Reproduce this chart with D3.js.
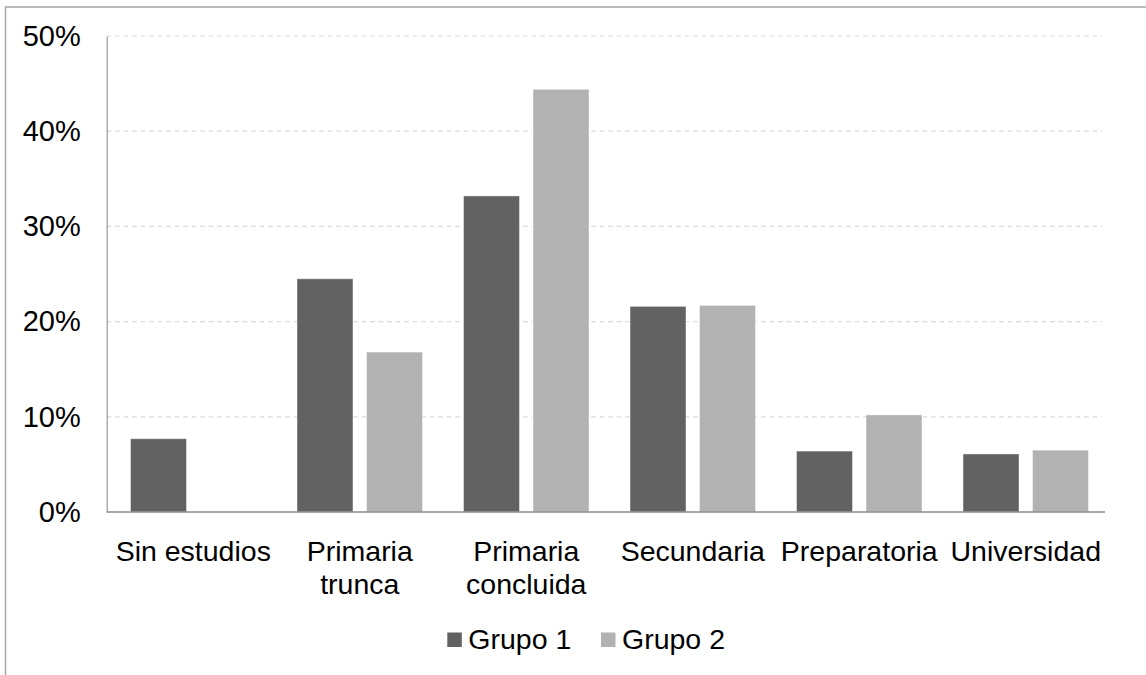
<!DOCTYPE html>
<html>
<head>
<meta charset="utf-8">
<script src="https://cdn.jsdelivr.net/npm/d3@7"></script>
<style>
  html, body { margin: 0; padding: 0; background: #fff; }
  svg { display: block; font-family: "Liberation Sans", Arial, sans-serif; }
</style>
</head>
<body>
<svg id="chart" width="1146" height="675"></svg>
<script>
// Education level categories and the share of each group
const categories = [
  ["Sin estudios"],
  ["Primaria", "trunca"],
  ["Primaria", "concluida"],
  ["Secundaria"],
  ["Preparatoria"],
  ["Universidad"]
];
const seriesNames = ["Grupo 1", "Grupo 2"];
const grupo1 = [7.7, 24.5, 33.2, 21.6, 6.4, 6.1];
const grupo2 = [0, 16.8, 44.4, 21.7, 10.2, 6.5];
const yTicks = [0, 10, 20, 30, 40, 50];
const seriesColors = ["#626262", "#b2b2b2"];

const svg = d3.select("#chart");

// Outer chart frame
svg.append("rect")
  .attr("x", 5.5).attr("y", 7)
  .attr("width", 1200).attr("height", 800)
  .attr("fill", "none")
  .attr("stroke", "#a6a6a6")
  .attr("stroke-width", 1.5);

const plot = { left: 106.7, right: 1105, top: 36, bottom: 512 };

const y = d3.scaleLinear().domain([0, 50]).range([plot.bottom, plot.top]);

const catKeys = categories.map(c => c.join(" "));
const x = d3.scaleBand().domain(catKeys).range([110, 1109]).paddingInner(0).paddingOuter(0);

// Two bars per category: 56px wide with a 13.5px gap
const groupWidth = 125.5;
const xs = d3.scaleBand().domain(seriesNames).range([0, groupWidth])
  .paddingInner(13.5 / 69.5).paddingOuter(0);

// Horizontal dashed gridlines
svg.append("g")
  .selectAll("line")
  .data(yTicks.filter(t => t > 0))
  .join("line")
  .attr("x1", plot.left).attr("x2", plot.right - 3)
  .attr("y1", d => y(d)).attr("y2", d => y(d))
  .attr("stroke", "#d9d9d9")
  .attr("stroke-width", 1.2)
  .attr("stroke-dasharray", "4.5,4");

// Y axis
const yAxis = d3.axisLeft(y)
  .tickValues(yTicks)
  .tickFormat(d => d + "%")
  .tickSize(0)
  .tickPadding(26);

const yg = svg.append("g")
  .attr("transform", `translate(${plot.left},0)`)
  .call(yAxis);
yg.select(".domain").attr("stroke", "#a0a0a0").attr("stroke-width", 1.3);
yg.selectAll("text")
  .attr("font-size", 29)
  .attr("fill", "#000")
  .attr("font-family", "'Liberation Sans', Arial, sans-serif");

// Bars
const data = categories.map((c, i) => ({
  key: catKeys[i],
  values: [grupo1[i], grupo2[i]]
}));

const groups = svg.append("g")
  .selectAll("g")
  .data(data)
  .join("g")
  .attr("transform", d => `translate(${x(d.key) + (x.bandwidth() - groupWidth) / 2},0)`);

groups.selectAll("rect")
  .data(d => d.values.map((v, j) => ({ name: seriesNames[j], value: v, j })))
  .join("rect")
  .filter(d => d.value > 0)
  .attr("x", d => xs(d.name))
  .attr("width", xs.bandwidth())
  .attr("y", d => y(d.value))
  .attr("height", d => plot.bottom - y(d.value))
  .attr("fill", d => seriesColors[d.j])
  .attr("stroke", "#ffffff")
  .attr("stroke-opacity", 0.45)
  .attr("stroke-width", 1);

// Baseline (0%)
svg.append("line")
  .attr("x1", plot.left).attr("x2", plot.right)
  .attr("y1", y(0)).attr("y2", y(0))
  .attr("stroke", "#8c8c8c")
  .attr("stroke-width", 1.3);

// Category labels
const labels = svg.append("g")
  .selectAll("text")
  .data(categories)
  .join("text")
  .attr("text-anchor", "middle")
  .attr("font-size", 28.5)
  .attr("fill", "#000")
  .attr("transform", (d, i) => `translate(${x(catKeys[i]) + x.bandwidth() / 2},561)`);

labels.selectAll("tspan")
  .data(d => d)
  .join("tspan")
  .attr("x", 0)
  .attr("dy", (d, i) => i === 0 ? 0 : 33)
  .text(d => d);

// Legend
const legendItems = [
  { name: seriesNames[0], color: seriesColors[0], x: 447.3 },
  { name: seriesNames[1], color: seriesColors[1], x: 601 }
];
const lg = svg.append("g")
  .selectAll("g")
  .data(legendItems)
  .join("g")
  .attr("transform", d => `translate(${d.x},0)`);
lg.append("rect")
  .attr("x", 0).attr("y", 632.5)
  .attr("width", 14.5).attr("height", 14.5)
  .attr("fill", d => d.color);
lg.append("text")
  .attr("x", 21).attr("y", 649)
  .attr("font-size", 28.5)
  .attr("fill", "#000")
  .text(d => d.name);
</script>
</body>
</html>
